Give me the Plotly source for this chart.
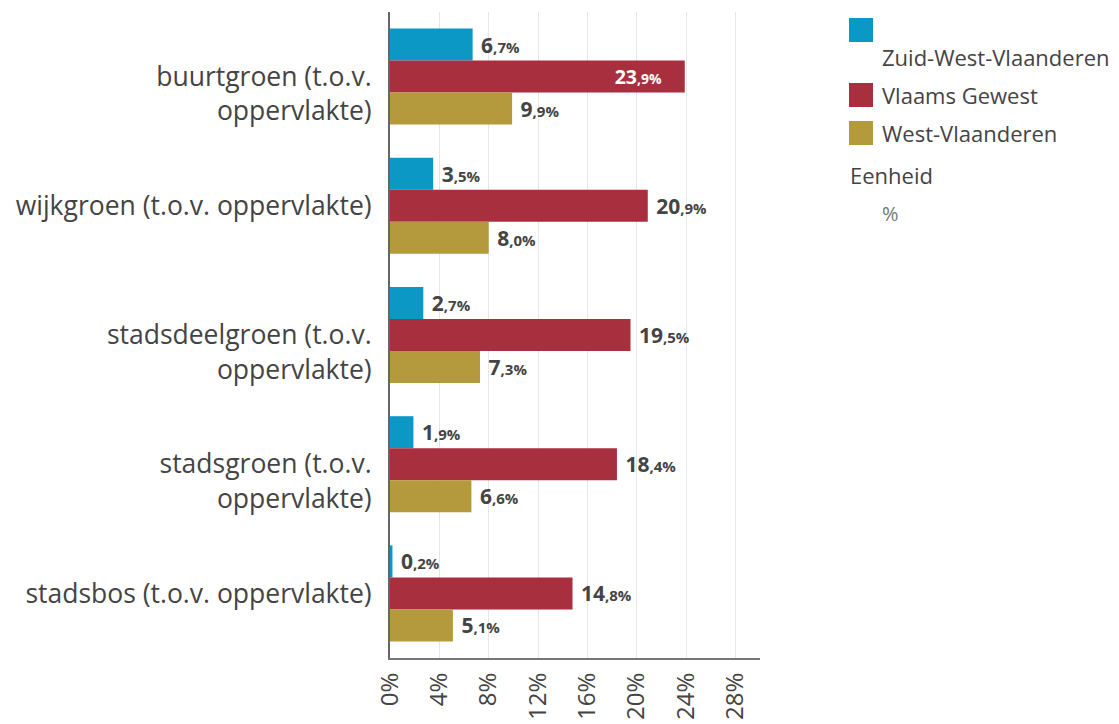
import plotly.graph_objects as go

categories = [
    "buurtgroen (t.o.v.<br>oppervlakte)",
    "wijkgroen (t.o.v. oppervlakte)",
    "stadsdeelgroen (t.o.v.<br>oppervlakte)",
    "stadsgroen (t.o.v.<br>oppervlakte)",
    "stadsbos (t.o.v. oppervlakte)",
]
series_names = ["Zuid-West-Vlaanderen", "Vlaams Gewest", "West-Vlaanderen"]
zwvl = [6.7, 3.5, 2.7, 1.9, 0.2]
vlaams = [23.9, 20.9, 19.5, 18.4, 14.8]
wvl = [9.9, 8.0, 7.3, 6.6, 5.1]
colors = ["#0b98c4", "#a82f3e", "#b59a3d"]
tick_vals = [0, 4, 8, 12, 16, 20, 24, 28]
unit_label = "Eenheid"
unit_value = "%"

FONT = "Open Sans"
TXT = "#444444"

# page has an 8px body margin; plot area in figure coordinates
OFF = 8
PL, PT, PW, PH = 390 - OFF, 12 - OFF, 370, 646


def px(xs):
    return (xs - OFF - PL) / PW


def py(ys):
    return (PT + PH - (ys - OFF)) / PH


def fmt(v, inside=False):
    s = f"{v:.1f}"
    ip, dp = s.split(".")
    lab = f"<b>{ip}</b><span style='font-size:15px'><b>,{dp}%</b></span>"
    if inside:
        return lab + "&nbsp;&nbsp;&nbsp;&nbsp;"
    return "&nbsp;" + lab


def cat_label(c):
    # first line of a wrapped label sits on the category centre
    if "<br>" in c:
        return "&nbsp;<br>" + c
    return c


fig = go.Figure()
for name, vals, col in zip(series_names, [zwvl, vlaams, wvl], colors):
    positions = []
    texts = []
    for v in vals:
        ins = v > 22
        positions.append("inside" if ins else "outside")
        texts.append(fmt(v, ins))
    fig.add_trace(go.Bar(
        y=categories, x=vals, name=name, orientation="h",
        marker=dict(color=col, line=dict(width=0)),
        text=texts, textposition=positions,
        insidetextanchor="end",
        insidetextfont=dict(color="white", size=21, family=FONT),
        outsidetextfont=dict(color=TXT, size=21, family=FONT),
        cliponaxis=False, showlegend=False,
    ))

fig.update_layout(
    width=1119, height=724,
    margin=dict(l=PL, r=1119 - PL - PW, t=PT, b=724 - PT - PH),
    paper_bgcolor="white", plot_bgcolor="white",
    barmode="group", bargap=0.257, bargroupgap=0,
    font=dict(family=FONT, color=TXT),
)
fig.update_xaxes(
    range=[0, 30], tickvals=tick_vals, ticktext=[f"{t}%" for t in tick_vals],
    tickangle=-90, tickfont=dict(size=24, color=TXT, family=FONT),
    showgrid=True, gridcolor="#e6e6e6", gridwidth=1,
    showline=True, linecolor="#777777", linewidth=2,
    zeroline=False, ticks="", ticklabelstandoff=3,
)
fig.update_yaxes(
    autorange="reversed", tickfont=dict(size=26.5, color=TXT, family=FONT),
    tickmode="array", tickvals=categories,
    ticktext=[cat_label(c) for c in categories],
    showline=True, linecolor="#666666", linewidth=2, ticks="",
    showgrid=False, ticklabelstandoff=11,
)

# manual legend
items_y = [18, 83, 121]
for col, y0 in zip(colors, items_y):
    fig.add_shape(type="rect", xref="paper", yref="paper",
                  x0=px(849), x1=px(873), y0=py(y0 + 24), y1=py(y0),
                  fillcolor=col, line=dict(width=0))
text_y = [57, 95, 133]
for name, ty in zip(series_names, text_y):
    fig.add_annotation(text=name, xref="paper", yref="paper",
                       x=px(880), y=py(ty),
                       xanchor="left", yanchor="middle", showarrow=False,
                       font=dict(size=22, color=TXT, family=FONT))
fig.add_annotation(text=unit_label, xref="paper", yref="paper",
                   x=px(848), y=py(175),
                   xanchor="left", yanchor="middle", showarrow=False,
                   font=dict(size=22, color=TXT, family=FONT))
fig.add_annotation(text=unit_value, xref="paper", yref="paper",
                   x=px(880), y=py(213),
                   xanchor="left", yanchor="middle", showarrow=False,
                   font=dict(size=20, color="#777777", family=FONT))

fig.write_html("out.html")
